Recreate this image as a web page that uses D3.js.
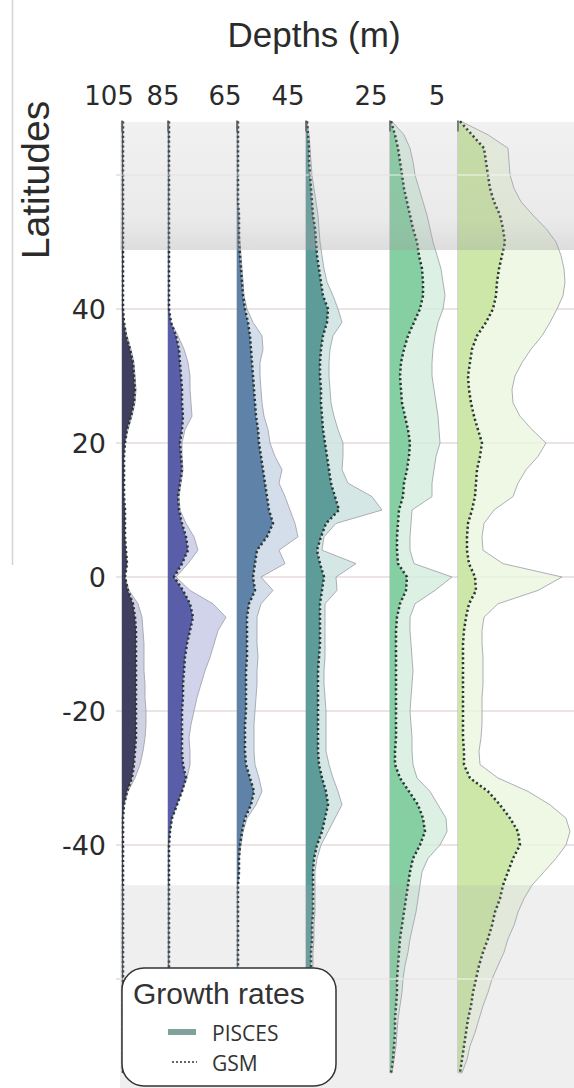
<!DOCTYPE html>
<html><head><meta charset="utf-8">
<script src="https://cdn.jsdelivr.net/npm/d3@7"></script>
<style>body{margin:0;background:#fff}svg{display:block}</style>
</head><body>
<svg id="c" width="574" height="1088"></svg>
<script>
// ---------- data ----------
const depths = ["105", "85", "65", "45", "25", "5"];
const latitudes = [68,66,64,62,60,58,56,54,52,50,48,46,44,42,40,38,36,34,32,30,28,26,24,22,20,18,16,14,12,10,8,6,4,2,0,-2,-4,-6,-8,-10,-12,-14,-16,-18,-20,-22,-24,-26,-28,-30,-32,-34,-36,-38,-40,-42,-44,-46,-48,-50,-52,-54,-56,-58,-60,-62,-64,-66,-68,-70,-72,-74];
const latTicks = [40, 20, 0, -20, -40];
const gridLats = [60, 40, 20, 0, -20, -40, -60];
const shadedTop = [67.9, 48.8];
const shadedBottom = [-46, -76.5];

// growth rates (x 100), GSM (dotted) and PISCES (shaded envelope)
const gsm105 = [1,1,1,1,1,1,1,1,1,1, 1,1,1,1,1,2,4,8,11,12, 13,12,9,5,3,2,2,2,2,3, 3,3,4,5,3,6,11,13,14,14, 14,14,14,14,14,14,14,13,12,10, 5,2,1,1,1,1,1,1,1,1, 1,1,1,1,1,1,1,1,1,1, 1,1];
const pis105 = [1,1,1,1,1,1,1,1,1,1, 1,1,1,1,1,2,5,9,12,13, 14,13,10,6,3,2,2,2,2,3, 3,3,4,5,3,7,16,20,21,22, 22,22,23,23,24,24,23,21,18,13, 6,2,1,1,1,1,1,1,1,1, 1,1,1,1,1,1,1,1,1,1, 1,1];
const gsm85 = [1,1,1,1,1,1,1,1,1,1, 1,1,1,1,1,3,8,11,12,13, 14,14,15,14,12,13,14,12,10,11, 14,18,20,14,6,15,22,25,22,19, 17,16,15,15,14,14,14,14,15,18, 14,9,4,2,1,1,1,1,1,1, 1,1,1,1,1,1,1,1,1,1, 1,1];
const pis85 = [1,1,1,1,1,1,1,1,1,1, 1,1,1,1,1,3,10,16,20,22, 22,23,24,17,14,14,15,13,11,12, 18,26,30,20,8,22,45,58,50,46, 42,37,33,29,26,23,21,22,22,19, 14,9,4,2,1,1,1,1,1,1, 1,1,1,1,1,1,1,1,1,1, 1,1];
const gsm65 = [1,1,1,1,1,1,1,2,2,2, 3,4,5,6,8,11,13,14,15,16, 17,18,19,21,22,24,26,28,30,32, 36,30,20,18,16,18,12,10,10,10, 10,9,9,9,9,8,8,8,9,13, 17,14,8,5,3,2,2,1,1,1, 1,1,1,1,1,1,1,1,1,1, 1,1];
const pis65 = [1,1,1,1,1,1,1,2,2,3, 4,5,6,7,10,16,25,26,23,23, 24,25,27,31,33,38,45,42,48,53, 58,61,42,48,24,36,24,20,20,20, 21,20,20,19,18,17,17,17,18,22, 25,19,10,6,4,2,2,1,1,1, 1,1,1,1,1,1,1,1,1,1, 1,1];
const gsm45 = [1,2,3,3,4,5,6,7,9,10, 11,13,15,17,22,21,17,15,14,14, 15,15,16,17,19,21,23,25,29,33, 20,15,11,14,18,16,14,14,14,14, 13,12,12,12,12,12,12,12,13,16, 20,22,19,16,11,8,7,7,7,7, 6,6,5,5,5,5,5,5,5,5, 5,5];
const pis45 = [1,3,4,5,6,8,10,12,13,14, 16,18,21,27,32,36,27,24,23,23, 24,25,28,32,37,37,36,42,66,76, 30,18,16,50,30,31,19,19,19,19, 19,18,18,19,20,20,20,20,23,27, 32,36,29,22,15,11,9,9,9,9, 8,8,7,7,7,7,7,7,7,7, 7,7];
const gsm25 = [1,5,8,10,12,14,17,20,23,27, 29,32,33,33,30,24,18,14,11,10, 11,12,15,18,20,19,17,14,13,9, 8,7,7,8,17,16,10,7,6,6, 6,6,6,6,6,6,6,5,5,10, 19,28,33,35,30,23,20,18,16,14, 12,10,9,8,7,7,6,5,5,4, 3,1];
const pis25 = [2,14,20,23,25,29,33,37,40,43, 47,51,53,55,53,48,45,43,42,42, 44,46,48,49,50,46,44,42,42,22, 21,20,20,24,62,45,25,20,20,21, 22,23,22,21,20,21,22,22,23,27, 40,48,56,57,50,38,32,30,28,26, 23,20,18,15,13,12,10,8,7,6, 4,2];
const gsm5 = [2,14,26,28,30,32,36,42,45,47, 44,41,39,38,35,28,19,14,12,10, 11,13,16,20,24,22,19,18,17,14, 10,9,9,11,17,18,11,8,6,5, 5,5,5,5,5,5,5,6,6,12, 30,42,52,60,62,55,50,45,42,37, 34,30,25,21,18,15,13,10,8,6, 4,2];
const pis5 = [3,30,50,51,52,56,63,75,88,98, 103,106,107,105,99,92,84,73,64,57, 54,55,62,74,88,80,68,60,55,36, 26,24,25,45,104,80,40,26,24,24, 25,25,25,24,24,24,23,21,22,40, 70,92,108,112,108,98,86,74,66,60, 56,50,46,40,34,30,25,21,17,12, 9,4];

// ---------- layout ----------
const W = 574, H = 1088;
const svg = d3.select("#c");
const y = d3.scaleLinear().domain([-20, 40]).range([711, 309]);
const base = d3.scaleOrdinal().domain(depths).range([122, 168, 237, 306, 390, 458]);
const labelX = d3.scaleOrdinal().domain(depths).range([109, 163, 225, 288, 371, 437]);
const w = d3.scaleLinear().domain([0, 100]).range([0, 100]);
const darkCol = d3.scaleOrdinal().domain(depths).range(["#413f5f", "#5a5ea8", "#5f82a8", "#5e9c9a", "#86cfa2", "#cce7a7"]);
const lightCol = d3.scaleOrdinal().domain(depths).range(["#c4c6dc", "#c6c8e6", "#c9d6e6", "#cbe1df", "#d3ecdd", "#ebf5df"]);

const series = [
  {depth: "105", gsm: gsm105, pisces: pis105},
  {depth: "85", gsm: gsm85, pisces: pis85},
  {depth: "65", gsm: gsm65, pisces: pis65},
  {depth: "45", gsm: gsm45, pisces: pis45},
  {depth: "25", gsm: gsm25, pisces: pis25},
  {depth: "5", gsm: gsm5, pisces: pis5}
];

const defs = svg.append("defs");
const gTop = defs.append("linearGradient").attr("id", "gtop").attr("x1", 0).attr("y1", 0).attr("x2", 0).attr("y2", 1);
gTop.append("stop").attr("offset", "0%").attr("stop-color", "#a8a8a8").attr("stop-opacity", 0.16);
gTop.append("stop").attr("offset", "75%").attr("stop-color", "#a8a8a8").attr("stop-opacity", 0.24);
gTop.append("stop").attr("offset", "100%").attr("stop-color", "#a0a0a0").attr("stop-opacity", 0.36);

// faint frame line
svg.append("line").attr("x1", 12.5).attr("x2", 12.5).attr("y1", 0).attr("y2", 565)
  .attr("stroke", "#d4d4d4").attr("stroke-width", 1.5);

// grid
svg.append("g").selectAll("line").data(gridLats).join("line")
  .attr("x1", 116).attr("x2", W).attr("y1", d => y(d)).attr("y2", d => y(d))
  .attr("stroke", "#ece3e3").attr("stroke-width", 2);

// profiles
const gP = svg.append("g");
series.forEach(s => {
  const b = base(s.depth);
  const ar = d3.area().curve(d3.curveLinear)
    .y((d, i) => y(latitudes[i])).x0(b).x1(d => b + w(d));
  const ln = d3.line().curve(d3.curveLinear)
    .y((d, i) => y(latitudes[i])).x(d => b + w(d));
  gP.append("path").datum(s.pisces).attr("d", ar)
    .attr("fill", lightCol(s.depth)).attr("fill-opacity", 0.8)
    .attr("stroke", "#9a9ca8").attr("stroke-width", 1).attr("stroke-opacity", 0.8);
  gP.append("path").datum(s.gsm).attr("d", ar)
    .attr("fill", darkCol(s.depth));
  gP.append("path").datum(s.gsm).attr("d", ln)
    .attr("fill", "none").attr("stroke", "#2a3633").attr("stroke-width", 2.5)
    .attr("stroke-dasharray", "2.2,2.6");
  gP.append("line").attr("x1", b).attr("x2", b).attr("y1", y(latitudes[0]) - 1).attr("y2", y(latitudes[0]) + 10)
    .attr("stroke", "#555").attr("stroke-width", 1.5);
});

// shaded bands (overlay)
svg.append("rect").attr("x", 120).attr("width", W - 120)
  .attr("y", y(shadedTop[0])).attr("height", y(shadedTop[1]) - y(shadedTop[0]))
  .attr("fill", "url(#gtop)");
svg.append("rect").attr("x", 120).attr("width", W - 120)
  .attr("y", y(shadedBottom[0])).attr("height", y(shadedBottom[1]) - y(shadedBottom[0]))
  .attr("fill", "#a8a8a8").attr("fill-opacity", 0.19);
svg.append("g").selectAll("line").data(gridLats.filter(d => Math.abs(d) >= 60)).join("line")
  .attr("x1", 120).attr("x2", W).attr("y1", d => y(d)).attr("y2", d => y(d))
  .attr("stroke", "#ffffff").attr("stroke-opacity", 0.4).attr("stroke-width", 2);

// titles and tick labels
svg.append("text").attr("x", 314).attr("y", 47).attr("text-anchor", "middle")
  .attr("font-family", "Liberation Sans, Arial, sans-serif").attr("font-size", 35).attr("fill", "#2b2b2b")
  .text("Depths (m)");
svg.append("g").selectAll("text").data(depths).join("text")
  .attr("x", d => labelX(d)).attr("y", 105).attr("text-anchor", "middle")
  .attr("font-family", "DejaVu Sans, sans-serif").attr("font-size", 26).attr("fill", "#2b2b2b")
  .text(d => d);
svg.append("text").attr("transform", "translate(49,180) rotate(-90)").attr("text-anchor", "middle")
  .attr("font-family", "Liberation Sans, Arial, sans-serif").attr("font-size", 39).attr("fill", "#2b2b2b")
  .text("Latitudes");
svg.append("g").selectAll("text").data(latTicks).join("text")
  .attr("x", 106).attr("y", d => y(d)).attr("dy", "0.36em").attr("text-anchor", "end")
  .attr("font-family", "DejaVu Sans, sans-serif").attr("font-size", 27).attr("fill", "#2b2b2b")
  .text(d => d);

// legend
const lg = svg.append("g");
lg.append("rect").attr("x", 122).attr("y", 968).attr("width", 214).attr("height", 118).attr("rx", 22)
  .attr("fill", "#ffffff").attr("stroke", "#333").attr("stroke-width", 1.5);
lg.append("text").attr("x", 133).attr("y", 1004)
  .attr("font-family", "Liberation Sans, Arial, sans-serif").attr("font-size", 30).attr("fill", "#333")
  .text("Growth rates");
lg.append("line").attr("x1", 168).attr("x2", 196).attr("y1", 1032).attr("y2", 1032)
  .attr("stroke", "#7fa39a").attr("stroke-width", 6);
lg.append("line").attr("x1", 172).attr("x2", 197).attr("y1", 1062).attr("y2", 1062)
  .attr("stroke", "#333").attr("stroke-width", 1.4).attr("stroke-dasharray", "2,2");
lg.append("text").attr("x", 212).attr("y", 1041)
  .attr("font-family", "Open Sans, sans-serif").attr("font-size", 21).attr("fill", "#333").text("PISCES");
lg.append("text").attr("x", 212).attr("y", 1071)
  .attr("font-family", "Open Sans, sans-serif").attr("font-size", 21).attr("fill", "#333").text("GSM");
</script>
</body></html>
